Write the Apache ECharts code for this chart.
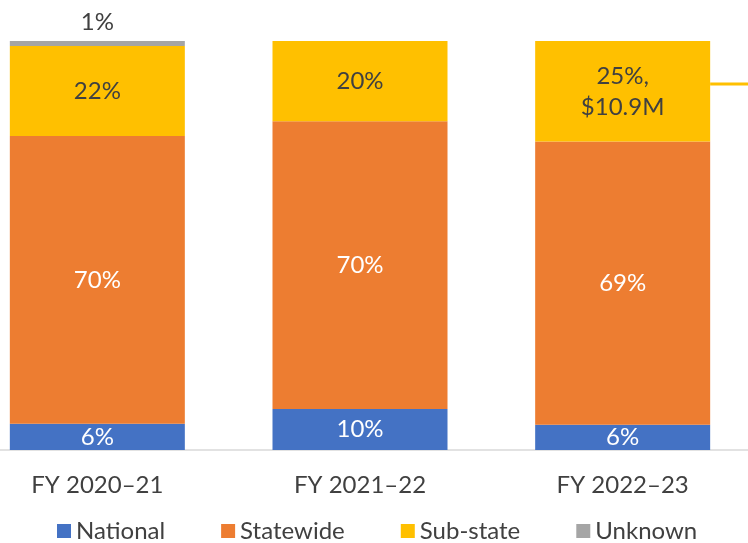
<!DOCTYPE html>
<html>
<head>
<meta charset="utf-8">
<script src="https://cdn.jsdelivr.net/npm/echarts@6/dist/echarts.min.js"></script>
<style>
html,body{margin:0;padding:0;background:#fff;overflow:hidden;width:748px;height:543px;}
/* the plot is a crop: wider chart shifted left so the outer bars sit near the edges */
#chart{position:absolute;left:-34px;top:0;width:788px;height:543px;}
</style>
</head>
<body>
<div id="chart"></div>
<script>
/*
*数据
*/
var years=['FY 2020\u201321','FY 2021\u201322','FY 2022\u201323'];
var national=[6.4,10.0,6.2];
var statewide=[70.4,70.4,69.2];
var subState=[22.0,19.6,24.7];
var unknown=[1.2,0,0];
var subStateDollars=['','','$10.9M'];

var fontName='Lato, sans-serif';

function pct(p){
	if(!p.value){return '';}
	return Math.round(p.value)+'%';
}

function barSeries(name,values,color,labelColor){
	return {
		name:name,
		type:'bar',
		stack:'total',
		barWidth:175,
		data:values,
		itemStyle:{color:color},
		label:{
			show:true,
			position:'inside',
			color:labelColor,
			fontFamily:fontName,
			fontSize:24,
			formatter:pct
		}
	};
}

var option={
	animation:false,
	backgroundColor:'#fff',
	grid:{left:0,right:0,top:41,bottom:93},
	legend:{
		top:514,
		left:86,
		icon:'rect',
		itemWidth:14,
		itemHeight:14,
		itemGap:56,
		textStyle:{color:'#404040',fontFamily:fontName,fontSize:24},
		data:['National','Statewide','Sub-state','Unknown']
	},
	xAxis:{
		type:'category',
		data:years,
		axisTick:{show:false},
		axisLine:{lineStyle:{color:'#D9D9D9',width:1.5}},
		axisLabel:{color:'#404040',fontFamily:fontName,fontSize:24,margin:23}
	},
	yAxis:{
		type:'value',
		min:0,
		max:100,
		show:false
	},
	series:[
		barSeries('National',national,'#4472C4','#fff'),
		barSeries('Statewide',statewide,'#ED7D31','#fff'),
		barSeries('Sub-state',subState,'#FFC000','#404040'),
		barSeries('Unknown',unknown,'#A5A5A5','#404040')
	]
};

// sub-state: add dollar amount on second line
option.series[2].label.formatter=function(p){
	var extra=subStateDollars[p.dataIndex];
	return extra ? Math.round(p.value)+'%,\n'+extra : Math.round(p.value)+'%';
};
option.series[2].label.lineHeight=31;
// unknown label sits above the bar
option.series[3].label.position='top';
option.series[3].label.distance=7;

var myChart=echarts.init(document.getElementById('chart'));
myChart.setOption(option);

// leader line from the FY 2022-23 sub-state label to the right edge
var rightEdge=myChart.convertToPixel({xAxisIndex:0},2)+87.5;
var lineY=myChart.convertToPixel({yAxisIndex:0},89.5);
myChart.setOption({
	graphic:[{
		type:'line',
		shape:{x1:rightEdge,y1:lineY,x2:788,y2:lineY},
		style:{stroke:'#FFC000',lineWidth:3}
	}]
});
</script>
</body>
</html>
